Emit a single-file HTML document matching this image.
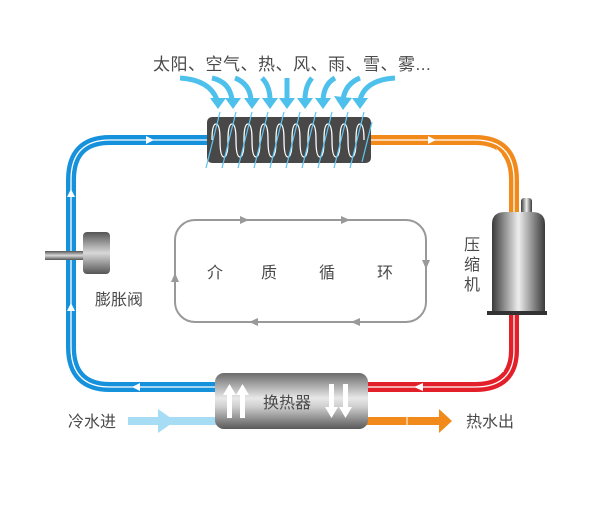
<!DOCTYPE html>
<html><head><meta charset="utf-8"><style>
html,body{margin:0;padding:0;background:#fff}
svg{display:block}
text{font-family:"Liberation Sans","Noto Sans CJK SC",sans-serif;fill:#4a4a4a}
</style></head><body>
<svg width="600" height="513" viewBox="0 0 600 513" xmlns="http://www.w3.org/2000/svg">
<defs>
<linearGradient id="gex" x1="0" y1="0" x2="0" y2="1">
<stop offset="0" stop-color="#6a6a6a"/><stop offset="0.45" stop-color="#e8e8e8"/><stop offset="0.6" stop-color="#cfcfcf"/><stop offset="1" stop-color="#5a5a5a"/></linearGradient>
<linearGradient id="gcomp" x1="0" y1="0" x2="1" y2="0">
<stop offset="0" stop-color="#3a3a3a"/><stop offset="0.5" stop-color="#eeeeee"/><stop offset="1" stop-color="#3a3a3a"/></linearGradient>
<linearGradient id="gval" x1="0" y1="0" x2="0" y2="1">
<stop offset="0" stop-color="#555"/><stop offset="0.5" stop-color="#d8d8d8"/><stop offset="1" stop-color="#555"/></linearGradient>
<clipPath id="coilclip"><rect x="207" y="117" width="164" height="46" rx="5"/></clipPath>
</defs>

<text x="153" y="70" font-size="17" letter-spacing="0.5">太阳、空气、热、风、雨、雪、雾...</text>

<g fill="none" stroke="#4dc0ec" stroke-width="5">
<path d="M180 78 Q210 80 217 100"/>
<path d="M212 78 Q230 82 232 100"/>
<path d="M235 78 Q250 84 251 100"/>
<path d="M262 78 Q270 86 270 100"/>
<path d="M287 78 L287 100"/>
<path d="M312 78 Q305 86 305 100"/>
<path d="M335 78 Q324 84 323 100"/>
<path d="M360 78 Q345 84 343 100"/>
<path d="M395 78 Q365 80 360 100"/>
</g>
<g fill="#4dc0ec">
<polygon points="210,98 226,98 218,109"/><polygon points="225,98 241,98 233,109"/><polygon points="244,98 260,98 252,109"/>
<polygon points="262,98 278,98 270,109"/><polygon points="279,98 295,98 287,109"/><polygon points="297,98 313,98 305,109"/>
<polygon points="315,98 331,98 323,109"/><polygon points="334,96 352,98 343,110"/><polygon points="352,98 368,98 360,109"/>
</g>

<g fill="none" stroke-width="10">
<path d="M207 140 L110 140 Q71 140 71 180 L71 347 Q71 387 110 387 L216 387" stroke="#1691db"/>
<path d="M370 140 L475 140 Q514 140 514 180 L514 215" stroke="#f28a1b"/>
<path d="M514 313 L514 350 Q514 387 475 387 L367 387" stroke="#e3202a"/>
</g>
<g fill="none" stroke="#fff" stroke-width="1.3">
<path d="M207 140 L110 140 Q71 140 71 180 L71 347 Q71 387 110 387 L216 387"/>
<path d="M370 140 L475 140 Q514 140 514 180 L514 215"/>
<path d="M514 313 L514 350 Q514 387 475 387 L367 387"/>
</g>
<g fill="#fff">
<polygon points="146,136 146,144 154,140"/>
<polygon points="67,197 75,197 71,189"/><polygon points="67,311 75,311 71,303"/>
<polygon points="140,383 140,391 132,387"/>
<polygon points="428,136 428,144 436,140"/>
<polygon points="496,148 502,154 501,160"/>
<polygon points="500,365 504,372 497,372"/>
<polygon points="423,383 423,391 414,387"/>
</g>

<rect x="207" y="117" width="164" height="46" rx="5" fill="#484848"/>
<g clip-path="url(#coilclip)">
<path d="M212 140 Q212 124 216 124 Q220 124 220 140 Q220 157 224 157 Q228 157 228 140 Q228 124 232 124 Q236 124 236 140 Q236 157 240 157 Q244 157 244 140 Q244 124 248 124 Q252 124 252 140 Q252 157 256 157 Q260 157 260 140 Q260 124 264 124 Q268 124 268 140 Q268 157 272 157 Q276 157 276 140 Q276 124 280 124 Q284 124 284 140 Q284 157 288 157 Q292 157 292 140 Q292 124 296 124 Q300 124 300 140 Q300 157 304 157 Q308 157 308 140 Q308 124 312 124 Q316 124 316 140 Q316 157 320 157 Q324 157 324 140 Q324 124 328 124 Q332 124 332 140 Q332 157 336 157 Q340 157 340 140 Q340 124 344 124 Q348 124 348 140 Q348 157 352 157 Q356 157 356 140 Q356 124 360 124 Q364 124 364 140" fill="none" stroke="#fff" stroke-width="1.3"/>
</g>
<g stroke="#5cc6f0" stroke-width="1.2">
<line x1="206" y1="168" x2="220" y2="112"/><line x1="222" y1="168" x2="236" y2="112"/><line x1="238" y1="168" x2="252" y2="112"/>
<line x1="254" y1="168" x2="268" y2="112"/><line x1="270" y1="168" x2="284" y2="112"/><line x1="286" y1="168" x2="300" y2="112"/>
<line x1="302" y1="168" x2="316" y2="112"/><line x1="318" y1="168" x2="332" y2="112"/><line x1="334" y1="168" x2="348" y2="112"/>
<line x1="350" y1="168" x2="364" y2="112"/><line x1="362" y1="162" x2="372" y2="122"/>
</g>

<rect x="521" y="198" width="11" height="16" rx="3" fill="url(#gcomp)"/>
<path d="M492 224 Q492 212 505 212 L532 212 Q545 212 545 224 L545 312 L492 312 Z" fill="url(#gcomp)"/>
<rect x="487" y="311" width="60" height="4" fill="#333"/>
<text x="464" y="250" font-size="16">压</text>
<text x="464" y="270" font-size="16">缩</text>
<text x="464" y="290" font-size="16">机</text>

<rect x="45" y="251" width="40" height="9" fill="url(#gval)"/>
<rect x="83" y="232" width="27" height="42" rx="4" fill="url(#gval)"/>
<text x="95" y="305" font-size="16">膨胀阀</text>

<rect x="175" y="220" width="251" height="102" rx="20" fill="none" stroke="#999" stroke-width="2"/>
<g fill="#999">
<polygon points="240,216 240,224 249,220"/><polygon points="341,216 341,224 350,220"/>
<polygon points="422,260 430,260 426,269"/>
<polygon points="258,318 258,326 249,322"/><polygon points="360,318 360,326 351,322"/>
<polygon points="171,282 179,282 175,273"/>
</g>
<text x="207" y="278" font-size="16">介</text>
<text x="261" y="278" font-size="16">质</text>
<text x="319" y="278" font-size="16">循</text>
<text x="377" y="278" font-size="16">环</text>

<rect x="128" y="417" width="90" height="8" fill="#a6dcf4"/>
<polygon points="158,409 175,421 158,433" fill="#a6dcf4"/>
<rect x="365" y="417" width="78" height="8" fill="#f28a1b"/>
<polygon points="439,409 452,421 439,433" fill="#f28a1b"/>
<line x1="407" y1="417" x2="407" y2="425" stroke="#fff" stroke-width="1"/>
<text x="68" y="427" font-size="16">冷水进</text>
<text x="466" y="427" font-size="16">热水出</text>

<rect x="215" y="373" width="153" height="56" rx="9" fill="url(#gex)"/>
<g fill="#fff">
<rect x="227" y="393" width="5" height="25"/><polygon points="223,395 229.5,384 236,395"/>
<rect x="240" y="393" width="5" height="25"/><polygon points="236,395 242.5,384 249,395"/>
<rect x="329" y="384" width="5" height="25"/><polygon points="325,407 331.5,418 338,407"/>
<rect x="343" y="384" width="5" height="25"/><polygon points="339,407 345.5,418 352,407"/>
</g>
<text x="263" y="408" font-size="16">换热器</text>
</svg>
</body></html>
